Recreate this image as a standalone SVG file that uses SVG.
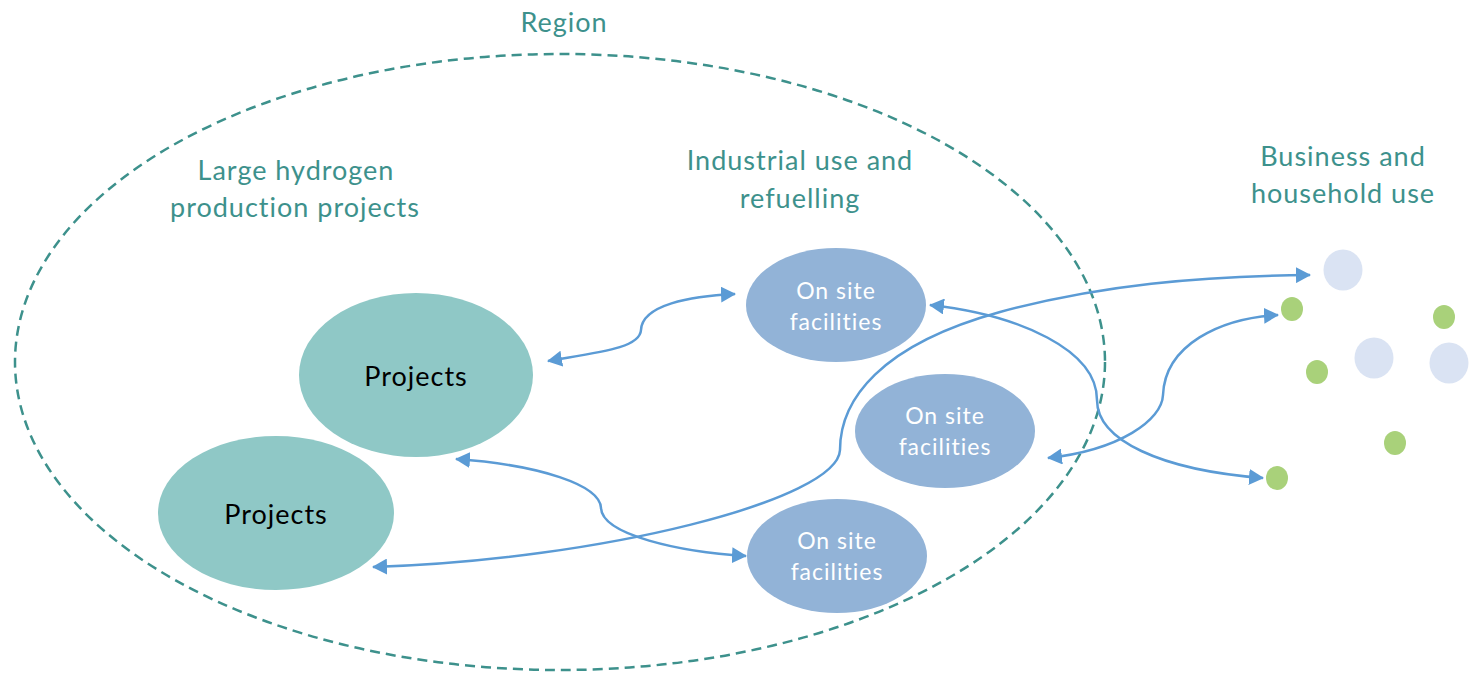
<svg xmlns="http://www.w3.org/2000/svg" width="1477" height="675" viewBox="0 0 1477 675">
<style>
text{font-variant-ligatures:none;font-family:Lato,"Open Sans",sans-serif;text-anchor:middle}
.lbl{font-size:27px;letter-spacing:1px;fill:#3D918C}
.proj{fill:#8FC8C6}
.ptxt{font-size:27px;letter-spacing:1px;fill:#000}
.site{fill:#92B3D7}
.stxt{font-size:23px;letter-spacing:1px;fill:#fff}
.con{fill:none;stroke:#5B9BD5;stroke-width:2.5;marker-start:url(#ah);marker-end:url(#ah)}
.bl{fill:#DAE3F3}
.gr{fill:#A9D17A}
</style>
<defs>
<marker id="ah" viewBox="0 0 15 16" refX="14" refY="8" markerWidth="15" markerHeight="16" markerUnits="userSpaceOnUse" orient="auto-start-reverse">
<path d="M0,0 L15,8 L0,16 Z" fill="#5B9BD5"/>
</marker>
</defs>
<g id="region">
<ellipse cx="560" cy="362" rx="545" ry="308" fill="none" stroke="#3D918C" stroke-width="2.5" stroke-dasharray="10 6"/>
<text class="lbl" x="564" y="32">Region</text>
</g>
<g id="labels">
<text class="lbl" x="296" y="180">Large hydrogen</text>
<text class="lbl" x="295" y="217">production projects</text>
<text class="lbl" x="800" y="170">Industrial use and</text>
<text class="lbl" x="800" y="208">refuelling</text>
<text class="lbl" x="1343" y="166">Business and</text>
<text class="lbl" x="1343" y="203">household use</text>
</g>
<g id="projects1">
<ellipse class="proj" cx="416" cy="375" rx="117" ry="82"/>
<text class="ptxt" x="416" y="386">Projects</text>
</g>
<g id="projects2">
<ellipse class="proj" cx="276" cy="513" rx="118" ry="77"/>
<text class="ptxt" x="276" y="524">Projects</text>
</g>
<g id="site1">
<ellipse class="site" cx="836" cy="305" rx="90" ry="57"/>
<text class="stxt" x="836" y="299">On site</text>
<text class="stxt" x="836" y="330">facilities</text>
</g>
<g id="site2">
<ellipse class="site" cx="945" cy="431" rx="90" ry="57"/>
<text class="stxt" x="945" y="424">On site</text>
<text class="stxt" x="945" y="455">facilities</text>
</g>
<g id="site3">
<ellipse class="site" cx="837" cy="556" rx="90" ry="57"/>
<text class="stxt" x="837" y="549">On site</text>
<text class="stxt" x="837" y="580">facilities</text>
</g>
<g id="users">
<ellipse class="bl" cx="1343" cy="270" rx="19.5" ry="20.5"/>
<ellipse class="bl" cx="1374" cy="358" rx="19.5" ry="20.5"/>
<ellipse class="bl" cx="1449" cy="363" rx="19.5" ry="20.5"/>
<ellipse class="gr" cx="1292" cy="309" rx="11" ry="12"/>
<ellipse class="gr" cx="1444" cy="317" rx="11" ry="12"/>
<ellipse class="gr" cx="1317" cy="372" rx="11" ry="12"/>
<ellipse class="gr" cx="1395" cy="443" rx="11" ry="12"/>
<ellipse class="gr" cx="1277" cy="478" rx="11" ry="12"/>
</g>
<g id="connectors">
<path class="con" d="M548,361 C600,352 640,348 641,330 C642,305 690,296 735,294"/>
<path class="con" d="M456,459 C540,465 600,485 601,508 C602,535 680,552 746,556"/>
<path class="con" d="M373,567 C600,560 838,500 840,450 C840,400 880,345 1000,312 C1100,285 1200,276 1310,275"/>
<path class="con" d="M930,305 C1020,315 1097,350 1097,400 C1097,440 1160,470 1263,478"/>
<path class="con" d="M1048,458 C1120,450 1162,420 1163,395 C1165,345 1220,318 1278,315"/>
</g>
</svg>
